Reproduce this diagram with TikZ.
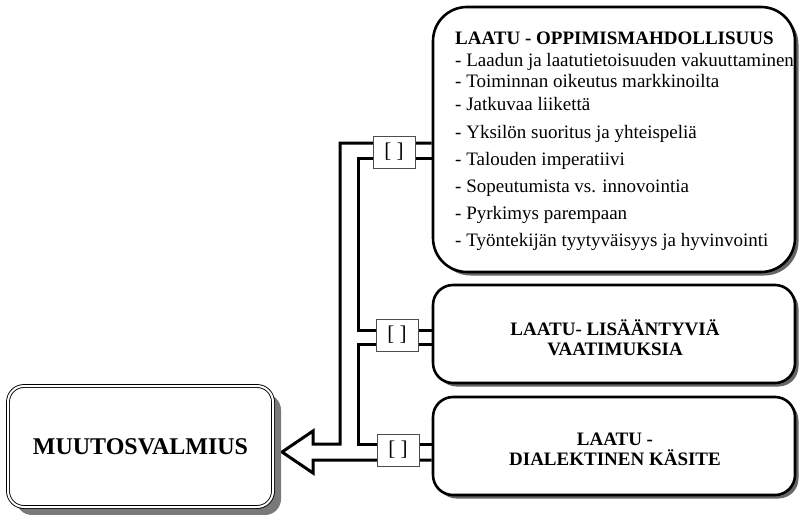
\documentclass[tikz,border=0pt]{standalone}
\usepackage{fontspec}
\setmainfont{Liberation Serif}
\usetikzlibrary{shadows,backgrounds}

\begin{document}
\begin{tikzpicture}[x=1pt,y=-1pt,
  bigbox/.style={draw, line width=2.6pt, fill=white, rounded corners=#1,
    drop shadow={shadow xshift=3.5pt, shadow yshift=-3.5pt, fill=black!60, opacity=1}},
  mainbox/.style={draw, double, double distance=2pt, line width=0.9pt, fill=white,
    rounded corners=16pt,
    drop shadow={shadow xshift=8pt, shadow yshift=-8pt, fill=black!52, opacity=1}},
  tag/.style={draw=black!70, line width=0.8pt, fill=white, inner sep=0pt,
    minimum width=42pt, minimum height=32pt, font=\fontsize{21}{21}\selectfont},
  conn/.style={line width=3pt, miter limit=10},
  listline/.style={anchor=base west, inner sep=0pt, font=\fontsize{19}{21}\selectfont},
  heading/.style={align=center, inner sep=0pt, font=\bfseries\fontsize{19}{20}\selectfont},
]
\useasboundingbox (0,0) rectangle (799,514);

% boxes
\node[bigbox=34pt, minimum width=362pt, minimum height=265pt] (top) at (614,139.5) {};
\node[bigbox=20pt, minimum width=362pt, minimum height=98pt] (mid) at (614,334) {};
\node[bigbox=20pt, minimum width=362pt, minimum height=98pt] (bot) at (614,446) {};
\node[mainbox, minimum width=265pt, minimum height=121pt,
      font=\bfseries\fontsize{24}{24}\selectfont] (main) at (140.5,446.5) {MUUTOSVALMIUS};

% texts of the upper box
\node[listline, font=\bfseries\fontsize{19}{21}\selectfont] (t0) at (455,44) {LAATU - OPPIMISMAHDOLLISUUS};
\node[listline] (t1) at (455,66) {- Laadun ja laatutietoisuuden vakuuttaminen};
\node[listline] (t2) at (455,87) {- Toiminnan oikeutus markkinoilta};
\node[listline] (t3) at (455,110) {- Jatkuvaa liikettä};
\node[listline] (t4) at (455,138) {- Yksilön suoritus ja yhteispeliä};
\node[listline] (t5) at (455,165) {- Talouden imperatiivi};
\node[listline] (t6) at (455,192) {- Sopeutumista vs. innovointia};
\node[listline] (t7) at (455,219) {- Pyrkimys parempaan};
\node[listline] (t8) at (455,246) {- Työntekijän tyytyväisyys ja hyvinvointi};

\node[heading] (midtext) at (615,338) {LAATU- LISÄÄNTYVIÄ\\VAATIMUKSIA};
\node[heading] (bottext) at (615,449) {LAATU -\\DIALEKTINEN KÄSITE};

% small tags on the connectors
\node[tag] (b1) at (394,152) {[ ]};
\node[tag] (b2) at (397,335) {[ ]};
\node[tag] (b3) at (398,450) {[ ]};

% bend points of the hollow arrow
\coordinate (o1) at (340,143);
\coordinate (o2) at (340,444);
\coordinate (h1) at (313,444);
\coordinate (h2) at (313,431);
\coordinate (tip) at (282,452);
\coordinate (h3) at (313,473);
\coordinate (h4) at (313,460);
\coordinate (i1) at (358,158);
\coordinate (i2) at (358,330);
\coordinate (i3) at (358,344);
\coordinate (i4) at (358,444);

\begin{scope}[on background layer]
  \draw[conn] (top.west |- o1) -- (o1) -- (o2) -- (h1) -- (h2) -- (tip)
              -- (h3) -- (h4) -- (bot.west |- h4);
  \draw[conn] (top.west |- i1) -- (i1) -- (i2) -- (mid.west |- i2);
  \draw[conn] (mid.west |- i3) -- (i3) -- (i4) -- (bot.west |- i4);
\end{scope}
\end{tikzpicture}
\end{document}
